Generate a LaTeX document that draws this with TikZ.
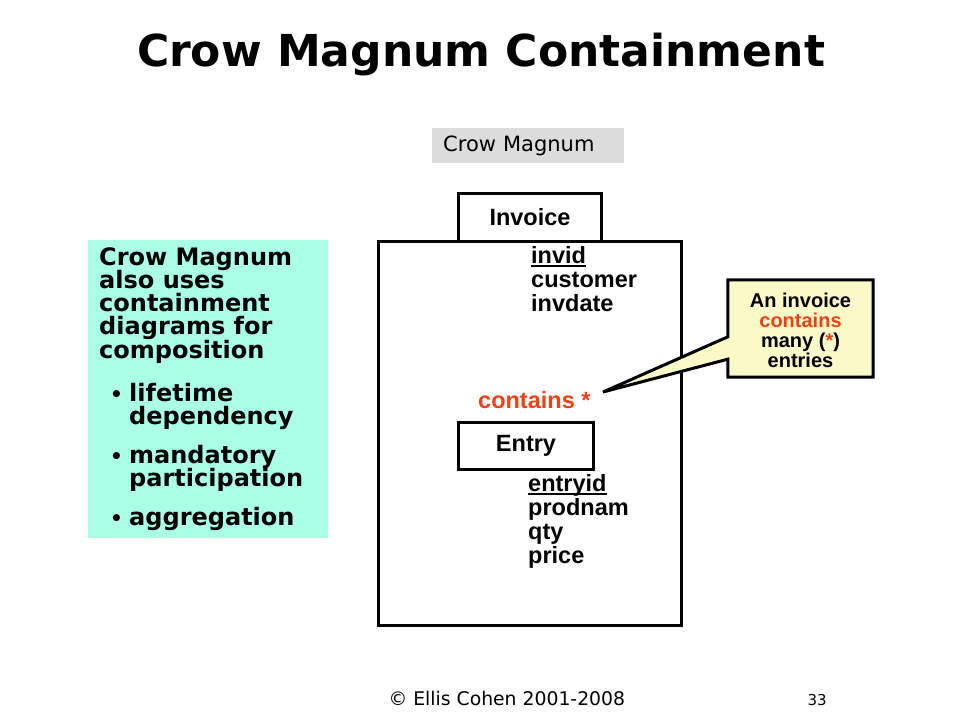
\documentclass[tikz,border=0pt]{standalone}
\usepackage{fontspec}
\setmainfont{DejaVu Sans}
\newfontfamily\arialfont{Liberation Sans}
\usetikzlibrary{positioning}

\definecolor{notecyan}{RGB}{170,255,230}
\definecolor{callyellow}{RGB}{250,250,200}
\definecolor{labelgray}{RGB}{220,220,220}
\definecolor{relred}{RGB}{235,65,20}

\newcommand{\pkey}[1]{\setbox0=\hbox{#1}\rlap{\rule[-4pt]{\wd0}{2.5pt}}\box0}

\begin{document}
\begin{tikzpicture}[x=1pt,y=-1pt,node distance=24pt,
    box node/.style={draw,line width=3pt,inner sep=0pt,font=\arialfont\bfseries\fontsize{23.5}{24}\selectfont},
    attr node/.style={inner sep=0pt,font=\arialfont\bfseries\fontsize{23.5}{24}\selectfont},
    note node/.style={inner sep=0pt,node distance=23.3pt,font=\bfseries\fontsize{24}{23.3}\selectfont},
    bullet node/.style={inner sep=0pt,font=\bfseries\fontsize{20}{20}\selectfont},
    call node/.style={inner sep=0pt,align=center,font=\arialfont\bfseries\fontsize{20}{20}\selectfont}]
  \useasboundingbox (0,0) rectangle (960,720);

  \node[anchor=base,font=\bfseries\fontsize{44}{44}\selectfont] (title) at (481,66) {Crow Magnum Containment};

  \node[fill=labelgray,anchor=north west,minimum width=192pt,minimum height=35pt,text width=170pt,inner xsep=11pt,inner ysep=0pt,font=\fontsize{21}{21}\selectfont] (label) at (432,128) {Crow Magnum};

  % invoice entity
  \node[box node,anchor=north west,minimum width=303pt,minimum height=384pt] (invbox) at (377,240) {};
  \node[box node,anchor=north west,minimum width=143pt,minimum height=48pt] (invoice) at (457,192) {Invoice};
  \node[attr node,anchor=base west] (invid) at (531,263) {\pkey{invid}};
  \node[attr node,below=of invid.base west,anchor=base west] (customer) {customer};
  \node[attr node,below=of customer.base west,anchor=base west] (invdate) {invdate};

  \node[attr node,anchor=base west,text=relred] (contains) at (478,408) {contains *};

  % entry entity
  \node[box node,anchor=north west,minimum width=135pt,minimum height=47pt] (entry) at (457,421) {Entry};
  \node[attr node,anchor=base west] (entryid) at (528,491) {\pkey{entryid}};
  \node[attr node,below=of entryid.base west,anchor=base west] (prodnam) {prodnam};
  \node[attr node,below=of prodnam.base west,anchor=base west] (qty) {qty};
  \node[attr node,below=of qty.base west,anchor=base west] (price) {price};

  % note on the left
  \node[fill=notecyan,anchor=north west,minimum width=240pt,minimum height=298pt,inner sep=0pt] (note) at (88,240) {};
  \node[note node,anchor=base west] (n1) at (99,265) {Crow Magnum};
  \node[note node,below=of n1.base west,anchor=base west] (n2) {also uses};
  \node[note node,below=of n2.base west,anchor=base west] (n3) {containment};
  \node[note node,below=of n3.base west,anchor=base west] (n4) {diagrams for};
  \node[note node,below=of n4.base west,anchor=base west] (n5) {composition};
  \node[note node,anchor=base west] (i1) at (129,401) {lifetime};
  \node[note node,below=of i1.base west,anchor=base west] (i1b) {dependency};
  \node[note node,anchor=base west] (i2) at (129,463) {mandatory};
  \node[note node,below=of i2.base west,anchor=base west] (i2b) {participation};
  \node[note node,anchor=base west] (i3) at (129,525) {aggregation};
  \node[bullet node,anchor=base east] (b1) at ([xshift=-6pt]i1.base west) {•};
  \node[bullet node,anchor=base east] (b2) at ([xshift=-6pt]i2.base west) {•};
  \node[bullet node,anchor=base east] (b3) at ([xshift=-6pt]i3.base west) {•};

  % callout
  \node[minimum width=145pt,minimum height=97pt,inner sep=0pt] (callout) at (800.5,328.5) {};
  \coordinate (tip) at (603,392);
  \filldraw[fill=callyellow,line width=3pt,line join=miter]
    (callout.north west) -- (callout.north east) -- (callout.south east) -- (callout.south west)
    -- ([yshift=18pt]callout.south west) -- (tip) -- ([yshift=-57pt]callout.north west) -- cycle;
  \node[call node] (calltext) at ([yshift=-2pt]callout.center) {An invoice\\\textcolor{relred}{contains}\\many (\textcolor{relred}{*})\\entries};

  % footer
  \node[anchor=base west,font=\fontsize{18.8}{18.8}\selectfont] (copy) at (385,705) {© Ellis Cohen 2001-2008};
  \node[anchor=base west,font=\fontsize{15}{15}\selectfont] (page) at (804,705) {33};
\end{tikzpicture}
\end{document}
